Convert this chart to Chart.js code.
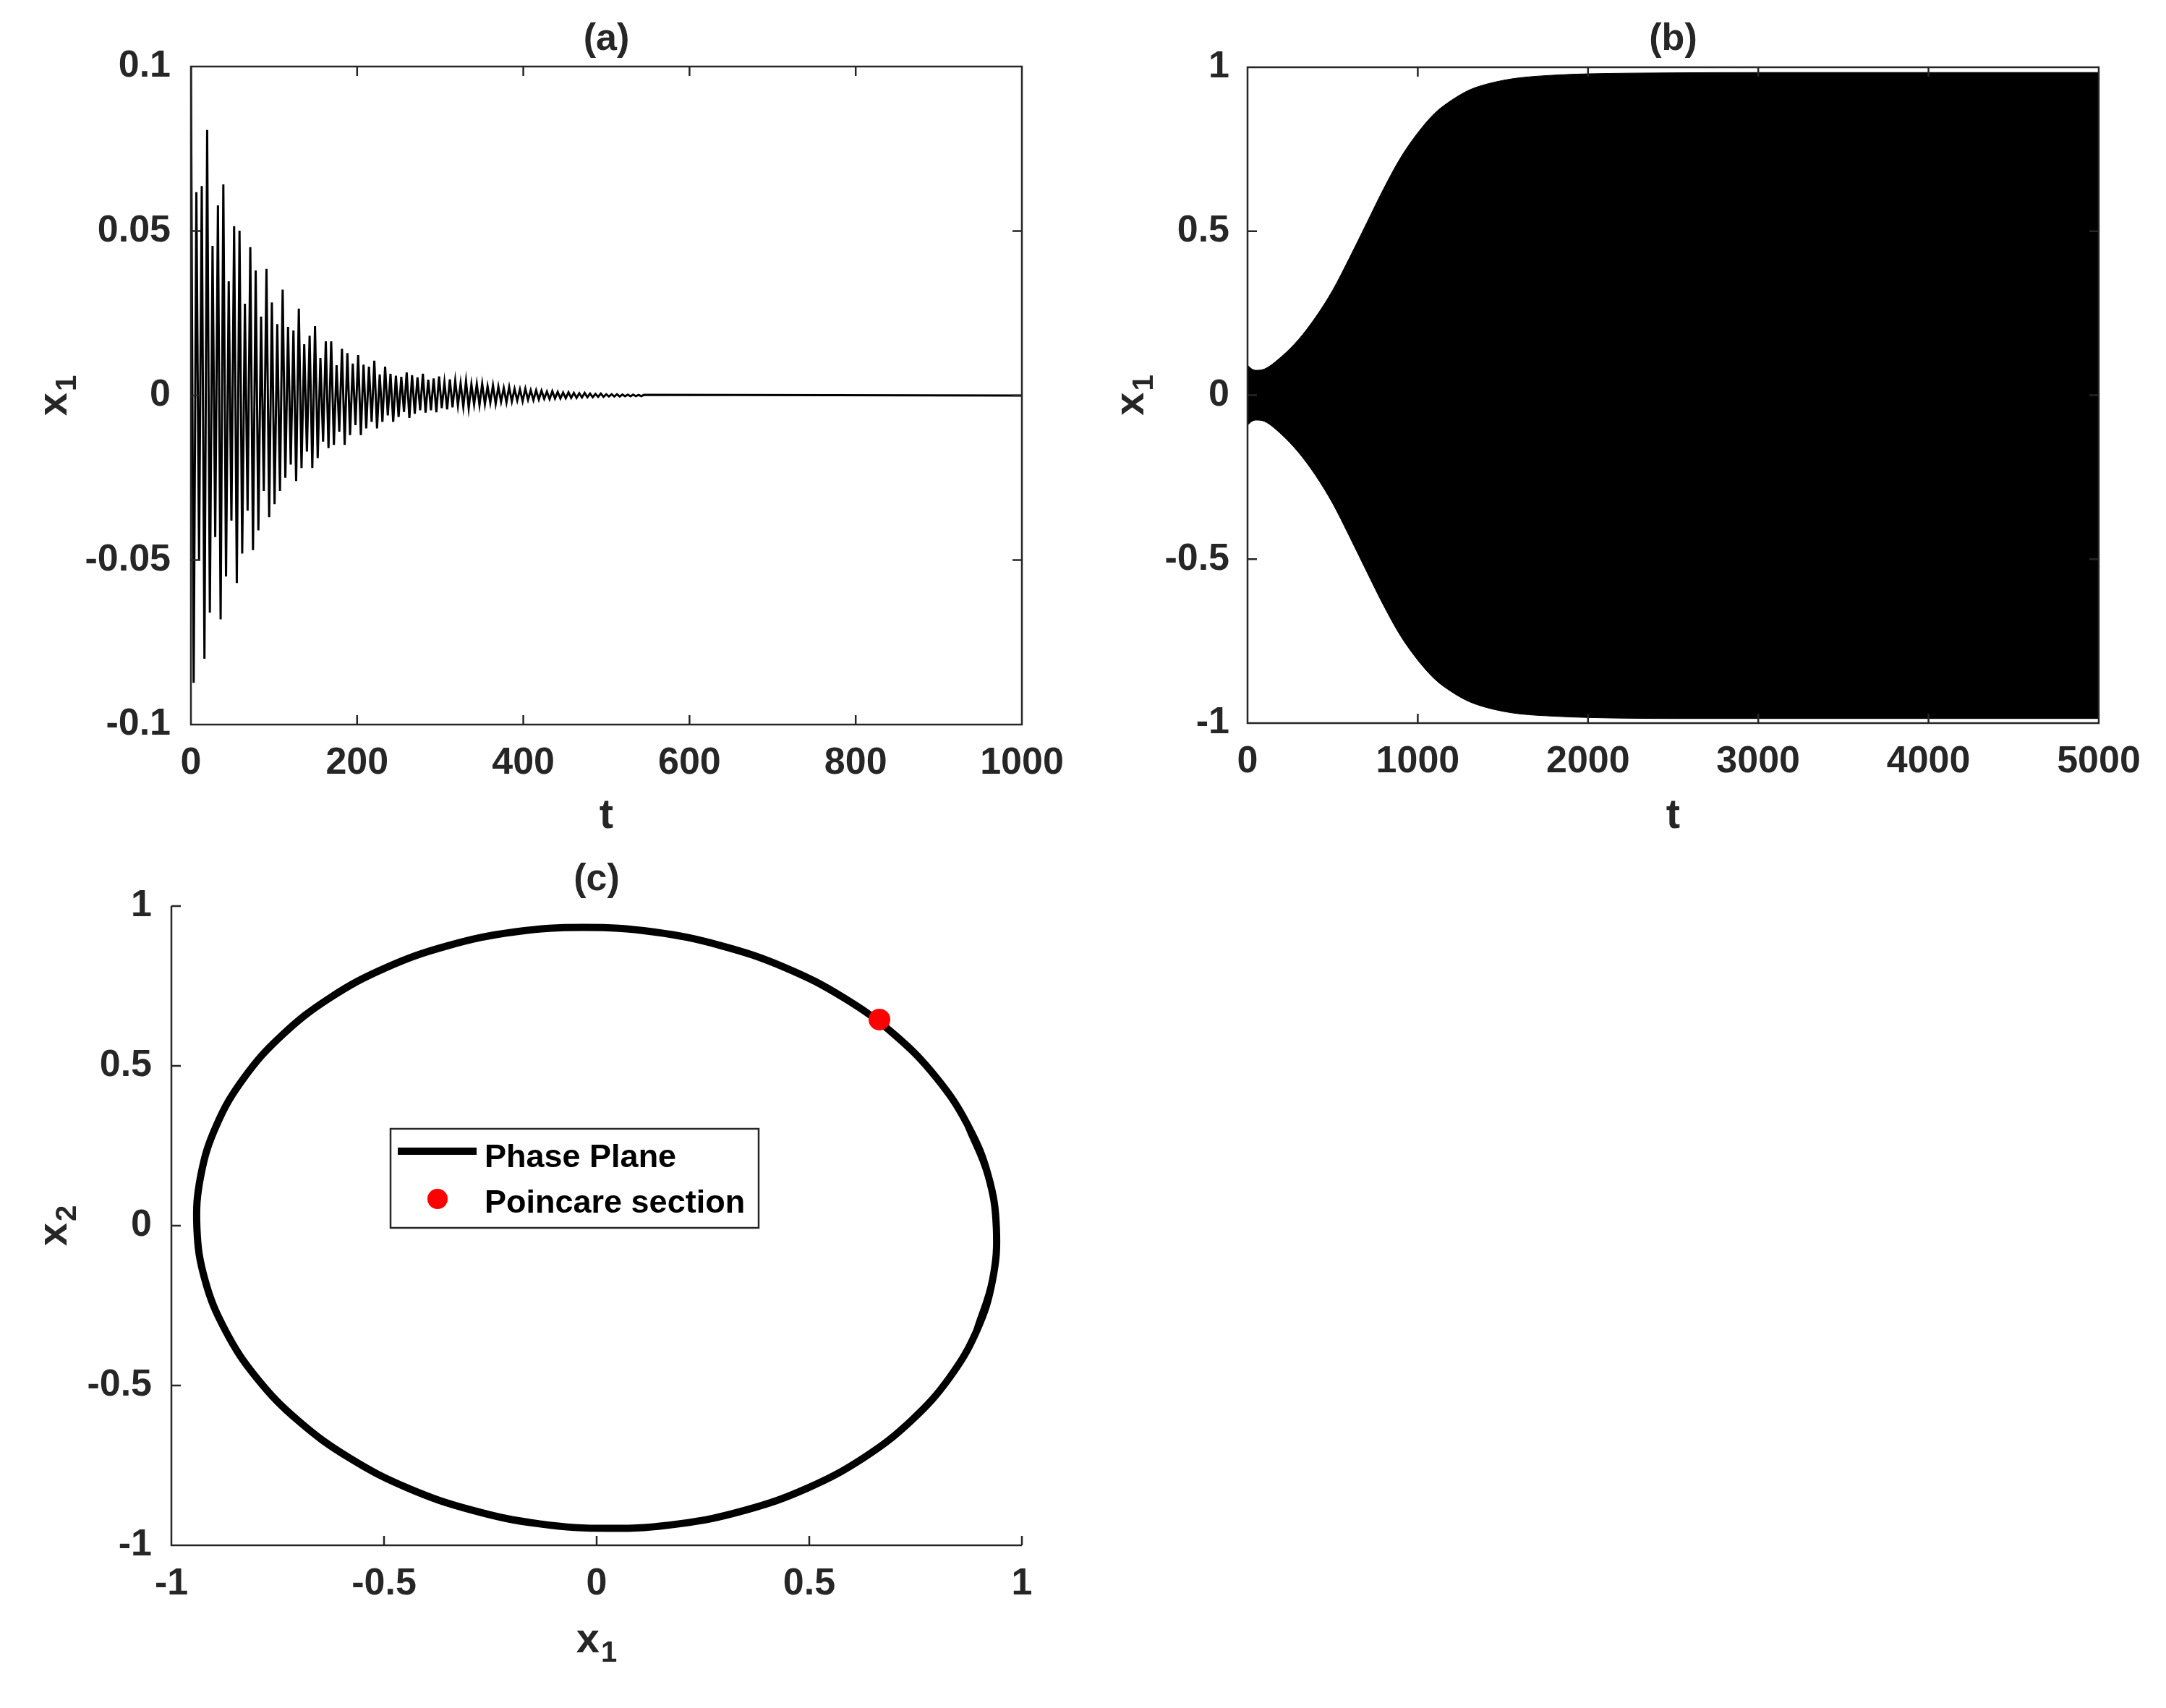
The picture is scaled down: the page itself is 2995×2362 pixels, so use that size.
<!DOCTYPE html>
<html>
<head>
<meta charset="utf-8">
<title>x1 response and phase plane</title>
<script src="https://cdn.jsdelivr.net/npm/chart.js@4.4.1/dist/chart.umd.min.js"></script>
<style>
  html, body { margin: 0; padding: 0; background: #fff; }
  body { width: 2995px; height: 2362px; position: relative; overflow: hidden; }
  canvas { position: absolute; }
</style>
</head>
<body>
<canvas id="chart-a" width="1500" height="1180" style="left:0;top:0"></canvas>
<canvas id="chart-b" width="1495" height="1180" style="left:1500px;top:0"></canvas>
<canvas id="chart-c" width="1500" height="1182" style="left:0;top:1180px"></canvas>
<script>
// ---- values ----

// (a) damped x1(t), 0..1000
var aTicksX = [0, 200, 400, 600, 800, 1000];
var aTickLabelsX = ['0', '200', '400', '600', '800', '1000'];
var aTicksY = [-0.1, -0.05, 0, 0.05, 0.1];
var aTickLabelsY = ['-0.1', '-0.05', '0', '0.05', '0.1'];
var aStart = 0.1;          // x1(0)
var aFirstTrough = 3.3;    // time of first minimum
var aPeriod = 6.49;        // oscillation period
var aEnd = 1000;
var aTroughs = [
  -0.0873, -0.050, -0.080, -0.066, -0.043, -0.068, -0.055, -0.038, -0.057, -0.048,
  -0.035, -0.047, -0.041, -0.029, -0.037, -0.033, -0.029, -0.025, -0.021, -0.026,
  -0.022, -0.017, -0.022, -0.019, -0.014, -0.016, -0.015, -0.011, -0.015, -0.012,
  -0.009, -0.012, -0.010, -0.008, -0.010, -0.008, -0.006, -0.008, -0.0065, -0.005,
  -0.0068, -0.0055, -0.0045, -0.0052, -0.0045, -0.0051, -0.0038, -0.0042, -0.0036, -0.003,
  -0.0034, -0.0038, -0.0027, -0.0029, -0.0026, -0.0022, -0.0025, -0.0019, -0.0021, -0.0018,
  -0.0015, -0.0017, -0.0013, -0.0014, -0.0012, -0.0010, -0.0011, -0.0009, -0.0009, -0.0008,
  -0.0007, -0.0007, -0.0006, -0.0005, -0.0005, -0.0004, -0.0004, -0.0003, -0.0003, -0.0003,
  -0.0002, -0.0002, -0.0002, -0.0002
];
var aPeaks = [
  0.0618, 0.0637, 0.0807, 0.0455, 0.0578, 0.0642, 0.0347, 0.0515, 0.0501, 0.0279,
  0.0451, 0.0380, 0.0240, 0.0385, 0.0283, 0.0217, 0.0322, 0.0209, 0.0198, 0.0264,
  0.0156, 0.0182, 0.0211, 0.0114, 0.0165, 0.0165, 0.0092, 0.0142, 0.0129, 0.0097,
  0.0123, 0.0094, 0.0088, 0.0106, 0.0064, 0.0088, 0.0066, 0.0060, 0.0057, 0.0070,
  0.0062, 0.0055, 0.0066, 0.0048, 0.0052, 0.0058, 0.0040, 0.0049, 0.0045, 0.0037,
  0.0044, 0.0034, 0.0035, 0.0036, 0.0028, 0.0031, 0.0027, 0.0023, 0.0026, 0.0020,
  0.0019, 0.0021, 0.0016, 0.0016, 0.0015, 0.0012, 0.0013, 0.0011, 0.0009, 0.0010,
  0.0008, 0.0007, 0.0008, 0.0006, 0.0005, 0.0006, 0.0004, 0.0004, 0.0004, 0.0003,
  0.0003, 0.0003, 0.0002, 0.0002
];

// (b) growing x1(t), 0..5000 - the oscillation is too dense to resolve, so its envelope is filled
var bTicksX = [0, 1000, 2000, 3000, 4000, 5000];
var bTickLabelsX = ['0', '1000', '2000', '3000', '4000', '5000'];
var bTicksY = [-1, -0.5, 0, 0.5, 1];
var bTickLabelsY = ['-1', '-0.5', '0', '0.5', '1'];
var bTimes = [0, 25, 50, 100, 200, 300, 400, 500, 600, 700, 800, 900, 1000, 1100, 1200, 1300, 1400, 1500, 1600, 1800, 2000, 2500, 3000, 4000, 5000];
var bUpper = [0.092, 0.080, 0.076, 0.080, 0.118, 0.170, 0.238, 0.320, 0.420, 0.525, 0.630, 0.725, 0.800, 0.860, 0.900, 0.930, 0.948, 0.960, 0.968, 0.976, 0.980, 0.983, 0.984, 0.984, 0.984];
var bLower = [-0.092, -0.080, -0.076, -0.080, -0.120, -0.175, -0.245, -0.330, -0.432, -0.538, -0.642, -0.735, -0.808, -0.866, -0.905, -0.934, -0.952, -0.964, -0.972, -0.979, -0.983, -0.986, -0.986, -0.986, -0.986];

// (c) phase plane, traced round the orbit (a little overlap at both ends so it closes smoothly)
var cTicks = [-1, -0.5, 0, 0.5, 1];
var cTickLabels = ['-1', '-0.5', '0', '0.5', '1'];
var cX = [0.894, 0.931,
          0.940, 0.921, 0.873, 0.799, 0.701, 0.581, 0.444, 0.293, 0.134, -0.030,
          -0.193, -0.350, -0.496, -0.627, -0.739, -0.829, -0.894, -0.931, -0.940,
          -0.921, -0.873, -0.799, -0.701, -0.581, -0.444, -0.293, -0.134, 0.030,
          0.193, 0.350, 0.496, 0.627, 0.739, 0.829, 0.894, 0.931, 0.940,
          0.921, 0.873];
var cY = [-0.328, -0.170,
          -0.007, 0.156, 0.314, 0.463, 0.597, 0.713, 0.807, 0.876, 0.919, 0.933,
          0.919, 0.876, 0.807, 0.713, 0.597, 0.463, 0.314, 0.156, -0.007,
          -0.170, -0.328, -0.477, -0.611, -0.727, -0.821, -0.890, -0.933, -0.947,
          -0.933, -0.890, -0.821, -0.727, -0.611, -0.477, -0.328, -0.170, -0.007,
          0.156, 0.314];
var poincareX = [0.665];
var poincareY = [0.645];

var FONT = '"Liberation Sans", Arial, Helvetica, sans-serif';
var INK = '#262626';

Chart.defaults.font.family = FONT;
Chart.defaults.font.weight = 'bold';
Chart.defaults.color = INK;

function points(xs, ys) {
  return xs.map(function (x, i) { return { x: x, y: ys[i] }; });
}

// a(t): start value, then alternating minima / maxima
var aSeries = [{ x: 0, y: aStart }];
aTroughs.forEach(function (v, k) {
  aSeries.push({ x: aFirstTrough + k * aPeriod, y: v });
  aSeries.push({ x: aFirstTrough + (k + 0.5) * aPeriod, y: aPeaks[k] });
});
aSeries.push({ x: aEnd, y: 0 });

function axis(pos, min, max, ticks, labels, size, pad) {
  return {
    type: 'linear', position: pos, min: min, max: max,
    grid: { display: false, drawTicks: false },
    border: { display: false },
    afterBuildTicks: function (s) { s.ticks = ticks.map(function (v) { return { value: v }; }); },
    afterFit: function (s) { if (pos === 'left') s.width = size; else s.height = size; },
    ticks: {
      padding: pad, autoSkip: false, maxRotation: 0, color: INK,
      font: { size: 52, weight: 'bold' },
      callback: function (v, i) { return labels[i]; }
    }
  };
}

// MATLAB style frame with inward ticks
var framePlugin = {
  id: 'frame',
  afterDatasetsDraw: function (chart, args, o) {
    var ctx = chart.ctx, a = chart.chartArea, sx = chart.scales.x, sy = chart.scales.y, L = 13;
    ctx.save();
    ctx.strokeStyle = INK;
    ctx.lineWidth = 2.5;
    ctx.beginPath();
    ctx.moveTo(a.left, a.top);
    ctx.lineTo(a.left, a.bottom);
    ctx.lineTo(a.right, a.bottom);
    if (o.box) { ctx.lineTo(a.right, a.top); ctx.closePath(); }
    sx.ticks.forEach(function (t) {
      var x = sx.getPixelForValue(t.value);
      ctx.moveTo(x, a.bottom); ctx.lineTo(x, a.bottom - L);
      if (o.box) { ctx.moveTo(x, a.top); ctx.lineTo(x, a.top + L); }
    });
    sy.ticks.forEach(function (t) {
      var y = sy.getPixelForValue(t.value);
      ctx.moveTo(a.left, y); ctx.lineTo(a.left + L, y);
      if (o.box) { ctx.moveTo(a.right, y); ctx.lineTo(a.right - L, y); }
    });
    ctx.stroke();
    ctx.restore();
  }
};

function drawSub(ctx, parts, x, y) {
  ctx.font = 'bold 58px ' + FONT;
  var w1 = ctx.measureText(parts[0]).width;
  ctx.font = 'bold 40px ' + FONT;
  var w2 = parts[1] ? ctx.measureText(parts[1]).width + 2 : 0;
  var left = x - (w1 + w2) / 2;
  ctx.textAlign = 'left';
  ctx.textBaseline = 'middle';
  ctx.font = 'bold 58px ' + FONT;
  ctx.fillText(parts[0], left, y);
  if (parts[1]) {
    ctx.font = 'bold 40px ' + FONT;
    ctx.fillText(parts[1], left + w1 + 2, y + 18);
  }
}

var textPlugin = {
  id: 'panelText',
  afterDraw: function (chart, args, o) {
    var ctx = chart.ctx, a = chart.chartArea;
    var cx = (a.left + a.right) / 2, cy = (a.top + a.bottom) / 2;
    ctx.save();
    ctx.fillStyle = INK;
    ctx.font = 'bold 52px ' + FONT;
    ctx.textAlign = 'center';
    ctx.textBaseline = 'middle';
    ctx.fillText(o.title, cx, a.top - o.titleGap);
    drawSub(ctx, o.xTitle, cx, a.bottom + o.xGap);
    ctx.translate(a.left - o.yGap, cy);
    ctx.rotate(-Math.PI / 2);
    drawSub(ctx, o.yTitle, 0, 0);
    ctx.restore();
  }
};

var legendPlugin = {
  id: 'boxLegend',
  afterDraw: function (chart, args, o) {
    var ctx = chart.ctx, ds = chart.data.datasets;
    ctx.save();
    ctx.fillStyle = '#fff';
    ctx.fillRect(o.x, o.y, o.w, o.h);
    ctx.strokeStyle = INK;
    ctx.lineWidth = 2.5;
    ctx.strokeRect(o.x, o.y, o.w, o.h);
    ctx.strokeStyle = ds[0].borderColor;
    ctx.lineWidth = ds[0].borderWidth;
    ctx.beginPath();
    ctx.moveTo(o.x + 10, o.y + 31);
    ctx.lineTo(o.x + 119, o.y + 31);
    ctx.stroke();
    ctx.fillStyle = ds[1].backgroundColor;
    ctx.beginPath();
    ctx.arc(o.x + 65, o.y + 97, 14, 0, Math.PI * 2);
    ctx.fill();
    ctx.fillStyle = '#000';
    ctx.font = 'bold 45px ' + FONT;
    ctx.textAlign = 'left';
    ctx.textBaseline = 'alphabetic';
    ctx.fillText(ds[0].label, o.x + 130, o.y + 53);
    ctx.fillText(ds[1].label, o.x + 130, o.y + 116);
    ctx.restore();
  }
};

var common = { responsive: false, animation: false, devicePixelRatio: 1, events: [] };

new Chart(document.getElementById('chart-a'), {
  type: 'line',
  data: {
    datasets: [{
      label: 'x1',
      data: aSeries,
      borderColor: '#000',
      borderWidth: 3,
      pointRadius: 0,
      tension: 0,
      fill: false
    }]
  },
  options: Object.assign({}, common, {
    layout: { padding: { left: 0, top: 92, right: 87, bottom: 0 } },
    scales: {
      x: axis('bottom', 0, 1000, aTicksX, aTickLabelsX, 178, 22),
      y: axis('left', -0.1, 0.1, aTicksY, aTickLabelsY, 264, 28)
    },
    plugins: {
      legend: { display: false },
      tooltip: { enabled: false },
      frame: { box: true },
      panelText: { title: '(a)', titleGap: 37, xTitle: ['t'], xGap: 127, yTitle: ['x', '1'], yGap: 188 }
    }
  }),
  plugins: [framePlugin, textPlugin]
});

new Chart(document.getElementById('chart-b'), {
  type: 'line',
  data: {
    datasets: [{
      label: 'upper envelope',
      data: points(bTimes, bUpper),
      borderColor: '#000',
      backgroundColor: '#000',
      borderWidth: 1,
      pointRadius: 0,
      cubicInterpolationMode: 'monotone',
      fill: '+1'
    }, {
      label: 'lower envelope',
      data: points(bTimes, bLower),
      borderColor: '#000',
      backgroundColor: '#000',
      borderWidth: 1,
      pointRadius: 0,
      cubicInterpolationMode: 'monotone',
      fill: false
    }]
  },
  options: Object.assign({}, common, {
    layout: { padding: { left: 0, top: 93, right: 93, bottom: 0 } },
    scales: {
      x: axis('bottom', 0, 5000, bTicksX, bTickLabelsX, 180, 22),
      y: axis('left', -1, 1, bTicksY, bTickLabelsY, 225, 25)
    },
    plugins: {
      legend: { display: false },
      tooltip: { enabled: false },
      frame: { box: true },
      panelText: { title: '(b)', titleGap: 38, xTitle: ['t'], xGap: 129, yTitle: ['x', '1'], yGap: 160 }
    }
  }),
  plugins: [framePlugin, textPlugin]
});

new Chart(document.getElementById('chart-c'), {
  type: 'line',
  data: {
    datasets: [{
      label: 'Phase Plane',
      data: points(cX, cY),
      borderColor: '#000',
      borderWidth: 10,
      pointRadius: 0,
      tension: 0.4,
      fill: false,
      order: 1
    }, {
      label: 'Poincare section',
      data: points(poincareX, poincareY),
      showLine: false,
      pointRadius: 15,
      pointStyle: 'circle',
      backgroundColor: '#ff0000',
      borderColor: '#ff0000',
      borderWidth: 0,
      order: 0
    }]
  },
  options: Object.assign({}, common, {
    layout: { padding: { left: 0, top: 73, right: 87, bottom: 0 } },
    scales: {
      x: axis('bottom', -1, 1, cTicks, cTickLabels, 225, 22),
      y: axis('left', -1, 1, cTicks, cTickLabels, 237, 27)
    },
    plugins: {
      legend: { display: false },
      tooltip: { enabled: false },
      frame: { box: false },
      panelText: { title: '(c)', titleGap: 36, xTitle: ['x', '1'], xGap: 132, yTitle: ['x', '2'], yGap: 161 },
      boxLegend: { x: 540, y: 381, w: 509, h: 137 }
    }
  }),
  plugins: [framePlugin, textPlugin, legendPlugin]
});
</script>
</body>
</html>
